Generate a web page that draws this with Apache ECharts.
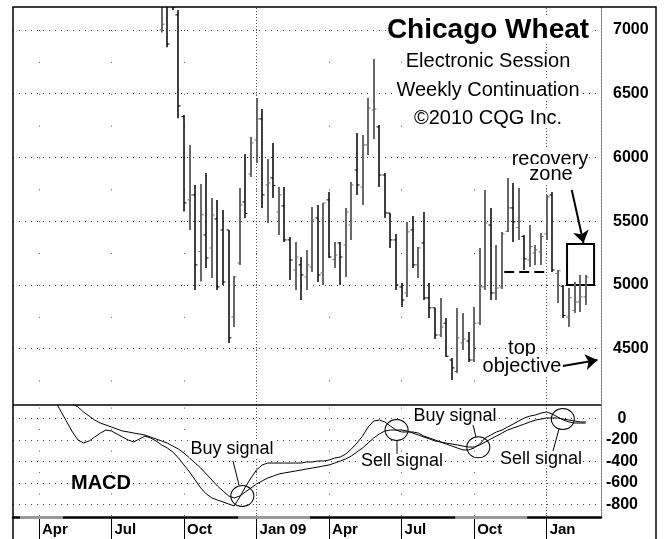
<!DOCTYPE html>
<html lang="en">
<head>
<meta charset="UTF-8">
<title>Chicago Wheat</title>
<script src="https://cdn.jsdelivr.net/npm/echarts@6/dist/echarts.min.js"></script>
<style>
  html, body { margin: 0; padding: 0; background: #fff; }
  #chart { width: 665px; height: 539px; }
</style>
</head>
<body>
<div id="chart"></div>
<script>
// weekly OHLC, index 0 = week of 1 Sep 2008
const barOpen = [7000, 7230, 7300, 7118, 6320, 5667, 5706, 5261, 5392, 5290,
  5517, 5431, 5431, 4749, 5172, 5651, 5870, 6137, 6302, 5784,
  5839, 5572, 5620, 5353, 5117, 5157, 5062, 5141, 5525, 5094,
  5667, 5200, 5329, 5313, 5470, 5902, 5768, 6098, 6372, 6239,
  5862, 5564, 5353, 4984, 4937, 5431, 5157, 5329, 4898, 4820,
  4607, 4700, 4411, 4320, 4545, 4560, 4411, 4701, 4984, 5470,
  4937, 4984, 5420, 5604, 5450, 5380, 5196, 5250, 5259, 5400,
  5706, 5090, 4990, 4749, 4800, 4866, 4906];
const barHigh = [7260, 7320, 7380, 7157, 6333, 6098, 5784, 5792, 5878, 5682,
  5667, 5588, 5431, 5070, 5761, 6027, 6161, 6467, 6380, 5988,
  6114, 5768, 5768, 5376, 5337, 5219, 5274, 5612, 5627, 5643,
  5729, 5337, 5337, 5604, 5808, 6192, 6176, 6467, 6772, 6255,
  5878, 5564, 5400, 5015, 5494, 5541, 5298, 5572, 5015, 4820,
  4898, 4741, 4427, 4819, 4780, 4631, 4827, 5290, 5745, 5604,
  5313, 5416, 5839, 5800, 5761, 5392, 5470, 5313, 5408, 5706,
  5729, 5117, 5000, 4976, 5023, 5078, 5078];
const barLow = [6979, 6864, 7157, 6307, 5575, 5431, 4960, 5026, 5133, 5055,
  4960, 5000, 4545, 4670, 5157, 5525, 5847, 5957, 5604, 5486,
  5682, 5392, 5337, 5039, 4960, 4882, 4960, 5102, 5023, 5000,
  5211, 5133, 5000, 5062, 5353, 5706, 5627, 6020, 6145, 5768,
  5525, 5290, 4960, 4827, 4906, 5133, 5055, 4882, 4741, 4576,
  4592, 4435, 4254, 4309, 4490, 4396, 4396, 4686, 4960, 4882,
  4882, 4968, 5416, 5337, 5353, 5117, 5141, 5157, 5157, 5353,
  5102, 4859, 4741, 4670, 4780, 4788, 4843];
const barClose = [7045, 6890, 7180, 6404, 5643, 5706, 5157, 5550, 5211, 5549,
  4984, 5023, 4584, 5062, 5627, 5560, 6114, 6302, 5706, 5800,
  5780, 5706, 5353, 5196, 5219, 5078, 5157, 5510, 5078, 5643,
  5219, 5235, 5219, 5572, 5784, 5784, 6098, 6388, 6380, 5862,
  5564, 5353, 5000, 4882, 5416, 5157, 5290, 4898, 4820, 4607,
  4670, 4440, 4349, 4584, 4576, 4411, 4700, 4984, 5486, 4937,
  4976, 5400, 5604, 5494, 5500, 5204, 5300, 5274, 5380, 5690,
  5117, 5110, 4760, 4900, 4866, 4906, 5062];

// MACD and its signal line, first value is week -20
const macdStart = -20;
const macdLine = [217, 152, 59, -34, -127, -202, -229, -211, -174, -137,
  -109, -118, -146, -174, -202, -220, -192, -165, -183, -211,
  -248, -276, -313, -369, -434, -499, -574, -648, -704, -741,
  -760, -778, -797, -815, -732, -639, -555, -481, -434, -416,
  -416, -416, -416, -416, -416, -416, -406, -406, -397, -397,
  -388, -369, -360, -332, -285, -230, -165, -81, -25, -16,
  -34, -72, -109, -127, -127, -127, -137, -165, -183, -202,
  -220, -239, -258, -276, -294, -294, -276, -239, -183, -155,
  -127, -109, -81, -53, -25, 3, 21, 31, 49, 59,
  40, 12, -16, -34, -44, -44, -44];
const signalLine = [357, 282, 217, 170, 133, 105, 59, 21, -16, -44,
  -62, -81, -100, -118, -127, -137, -146, -155, -174, -192,
  -211, -230, -258, -285, -323, -369, -416, -462, -518, -574,
  -630, -676, -722, -741, -722, -685, -648, -611, -583, -555,
  -537, -518, -508, -499, -490, -481, -471, -462, -453, -443,
  -434, -416, -397, -378, -350, -313, -276, -230, -183, -146,
  -118, -109, -109, -109, -118, -137, -155, -174, -192, -211,
  -220, -230, -239, -248, -258, -267, -267, -248, -220, -192,
  -165, -137, -109, -90, -72, -53, -34, -16, -7, 3,
  3, 3, -7, -16, -25, -34, -34];

// axis ticks
const quarterWeeks = [-22, -9, 4, 17, 30, 43, 56, 69];
const quarterLabels = ['Apr', 'Jul', 'Oct', 'Jan 09', 'Apr', 'Jul', 'Oct', 'Jan'];
const yearWeeks = [17, 69];
const priceTicks = [4500, 5000, 5500, 6000, 6500, 7000];
const macdTicks = [0, -200, -400, -600, -800];

// annotations (week, value)
const signalCircles = [[14.45, -723], [42.1, -109], [56.75, -270], [71.9, -7]];
const recoveryZone = [[72.65, 5320], [77.5, 5000]];
const neckline = [[61.4, 5100], [68.7, 5100]];
const axisBands = [[-25.4, -17.7], [13.7, 26.6], [52.6, 65.5]];

const FONT = '"Liberation Sans", Arial, sans-serif';
const X_MIN = -26.65, X_MAX = 78.74;

const bars = barOpen.map((o, i) => [i, o, barClose[i], barLow[i], barHigh[i]]);
const macdData = macdLine.map((v, i) => [macdStart + i, v]);
const signalData = signalLine.map((v, i) => [macdStart + i, v]);

function renderBar(params, api) {
  const i = api.value(0);
  const o = api.coord([i, api.value(1)]);
  const c = api.coord([i, api.value(2)]);
  const lo = api.coord([i, api.value(3)]);
  const hi = api.coord([i, api.value(4)]);
  const up = api.value(2) >= api.value(1);
  const stroke = up ? '#686868' : '#000';
  const x = Math.round(hi[0]);
  return {
    type: 'group',
    children: [
      { type: 'line', shape: { x1: x, y1: hi[1], x2: x, y2: lo[1] }, style: { stroke: stroke, lineWidth: up ? 2 : 1.5 } },
      { type: 'line', shape: { x1: x - 2.5, y1: o[1], x2: x, y2: o[1] }, style: { stroke: stroke, lineWidth: 1 } },
      { type: 'line', shape: { x1: x, y1: c[1], x2: x + 2.5, y2: c[1] }, style: { stroke: stroke, lineWidth: 1 } }
    ]
  };
}

const yearLines = {
  silent: true,
  symbol: ['none', 'none'],
  label: { show: false },
  lineStyle: { color: '#555', width: 1, type: [1, 2] },
  data: yearWeeks.map(w => ({ xAxis: w }))
};

var chart = echarts.init(document.getElementById('chart'));

var option = {
  animation: false,
  backgroundColor: '#fff',
  grid: [
    { left: 13, right: 64, top: 7, height: 398, outerBoundsMode: 'none' },
    { left: 13, right: 64, top: 405, height: 112, outerBoundsMode: 'none' }
  ],
  xAxis: [
    {
      gridIndex: 0, type: 'value', min: X_MIN, max: X_MAX,
      axisLine: { show: false },
      axisTick: { show: false, customValues: quarterWeeks },
      axisLabel: { show: false },
      splitLine: { show: true, lineStyle: { color: '#555', width: 1, type: [1, 30.87], dashOffset: 8.87 } }
    },
    {
      gridIndex: 1, type: 'value', min: X_MIN, max: X_MAX,
      axisLine: { show: true, onZero: false, lineStyle: { color: '#000', width: 2.5 } },
      axisTick: { show: true, customValues: quarterWeeks, length: 22, lineStyle: { color: '#000', width: 1 } },
      axisLabel: {
        customValues: quarterWeeks,
        formatter: v => quarterLabels[quarterWeeks.indexOf(Math.round(v))],
        align: 'left', padding: [0, 0, 0, 3], margin: 5,
        fontFamily: FONT, fontWeight: 'bold', fontSize: 15, color: '#000'
      },
      splitLine: { show: true, lineStyle: { color: '#555', width: 1, type: [1, 20.5], dashOffset: 18.9 } }
    }
  ],
  yAxis: [
    {
      gridIndex: 0, type: 'value', position: 'right', min: 4058, max: 7180,
      axisLine: { show: true, onZero: false, lineStyle: { color: '#777', width: 1, type: [2, 1] } },
      axisTick: { show: false, customValues: priceTicks },
      axisLabel: {
        customValues: priceTicks, align: 'left', margin: 12,
        formatter: v => String(v),
        fontFamily: FONT, fontWeight: 'bold', fontSize: 16, color: '#000'
      },
      splitLine: { show: true, lineStyle: { color: '#444', width: 1, type: [1, 5] } }
    },
    {
      gridIndex: 1, type: 'value', position: 'right', min: -918, max: 124,
      axisLine: { show: true, onZero: false, lineStyle: { color: '#777', width: 1, type: [2, 1] } },
      axisTick: { show: false, customValues: macdTicks },
      axisLabel: {
        customValues: macdTicks, align: 'center', margin: 21,
        formatter: v => String(v),
        fontFamily: FONT, fontWeight: 'bold', fontSize: 16, color: '#000'
      },
      splitLine: { show: true, lineStyle: { color: '#444', width: 1, type: [1, 5] } }
    }
  ],
  series: [
    {
      name: 'Wheat', type: 'custom', xAxisIndex: 0, yAxisIndex: 0,
      clip: true, renderItem: renderBar,
      encode: { x: 0, y: [1, 2, 3, 4] },
      data: bars,
      markLine: yearLines
    },
    {
      name: 'notes', type: 'line', xAxisIndex: 0, yAxisIndex: 0, data: [],
      markArea: {
        silent: true,
        itemStyle: { color: 'rgba(0,0,0,0)', borderColor: '#000', borderWidth: 2 },
        data: [[{ coord: recoveryZone[0] }, { coord: recoveryZone[1] }]]
      },
      markLine: {
        silent: true,
        label: { show: false },
        symbol: ['none', 'arrow'],
        symbolSize: 12,
        lineStyle: { color: '#000', width: 2, type: 'solid' },
        data: [
          [{ coord: [73.5, 5745] }, { coord: [75.6, 5329] }],
          [{ coord: [71.9, 4364] }, { coord: [78.1, 4411] }],
          [{ coord: neckline[0], symbol: 'none', lineStyle: { type: [10, 5], width: 2 } },
           { coord: neckline[1], symbol: 'none' }]
        ]
      }
    },
    {
      name: 'MACD', type: 'line', xAxisIndex: 1, yAxisIndex: 1,
      data: macdData, symbol: 'none', clip: true,
      lineStyle: { color: '#000', width: 1 },
      markLine: yearLines
    },
    {
      name: 'Signal', type: 'line', xAxisIndex: 1, yAxisIndex: 1,
      data: signalData, symbol: 'none', clip: true,
      lineStyle: { color: '#000', width: 1 },
      markPoint: {
        silent: true,
        symbol: 'circle', symbolSize: [23, 21],
        label: { show: false },
        itemStyle: { color: 'rgba(0,0,0,0)', borderColor: '#000', borderWidth: 1 },
        data: signalCircles.map(p => ({ coord: p }))
      }
    }
  ]
};

chart.setOption(option);

function txt(text, x, y, size, bold, align) {
  return {
    type: 'text', z: 100,
    style: {
      text: text, x: x, y: y,
      font: (bold ? 'bold ' : '') + size + 'px ' + FONT,
      fill: '#000', align: align || 'center', verticalAlign: 'middle',
      backgroundColor: '#fff', padding: [0, 1]
    }
  };
}
function seg(x1, y1, x2, y2, w, color) {
  return {
    type: 'line', z: 100,
    shape: { x1: x1, y1: y1, x2: x2, y2: y2 },
    style: { stroke: color || '#000', lineWidth: w || 1 }
  };
}

const graphics = [
  { type: 'rect', z: 90, shape: { x: 13, y: 7, width: 643, height: 545 }, style: { fill: 'none', stroke: '#000', lineWidth: 1.5 } },
  seg(13, 405, 601, 405, 1.5),
  txt('Chicago Wheat', 488, 30, 28, true),
  txt('Electronic Session', 488, 61, 20),
  txt('Weekly Continuation', 488, 90, 20),
  txt('\u00A92010 CQG Inc.', 488, 118, 20),
  txt('recovery', 550, 159, 20),
  txt('zone', 551, 174, 20),
  txt('top', 522, 348, 20),
  txt('objective', 522, 366, 20),
  txt('MACD', 70, 483, 20, true, 'left'),
  txt('Buy signal', 232, 449, 18),
  txt('Sell signal', 402, 461, 18),
  txt('Buy signal', 455, 416, 18),
  txt('Sell signal', 541, 459, 18),
  seg(233, 461, 239, 485),
  seg(397, 441, 397, 454),
  seg(473, 425, 476, 437),
  seg(559, 429, 553, 451)
];
axisBands.forEach(b => {
  const x1 = chart.convertToPixel({ xAxisIndex: 1 }, b[0]);
  const x2 = chart.convertToPixel({ xAxisIndex: 1 }, b[1]);
  graphics.push({ type: 'rect', z: 95, shape: { x: x1, y: 516, width: x2 - x1, height: 3 }, style: { fill: '#9a9a9a' } });
});
chart.setOption({ graphic: graphics });
</script>
</body>
</html>
